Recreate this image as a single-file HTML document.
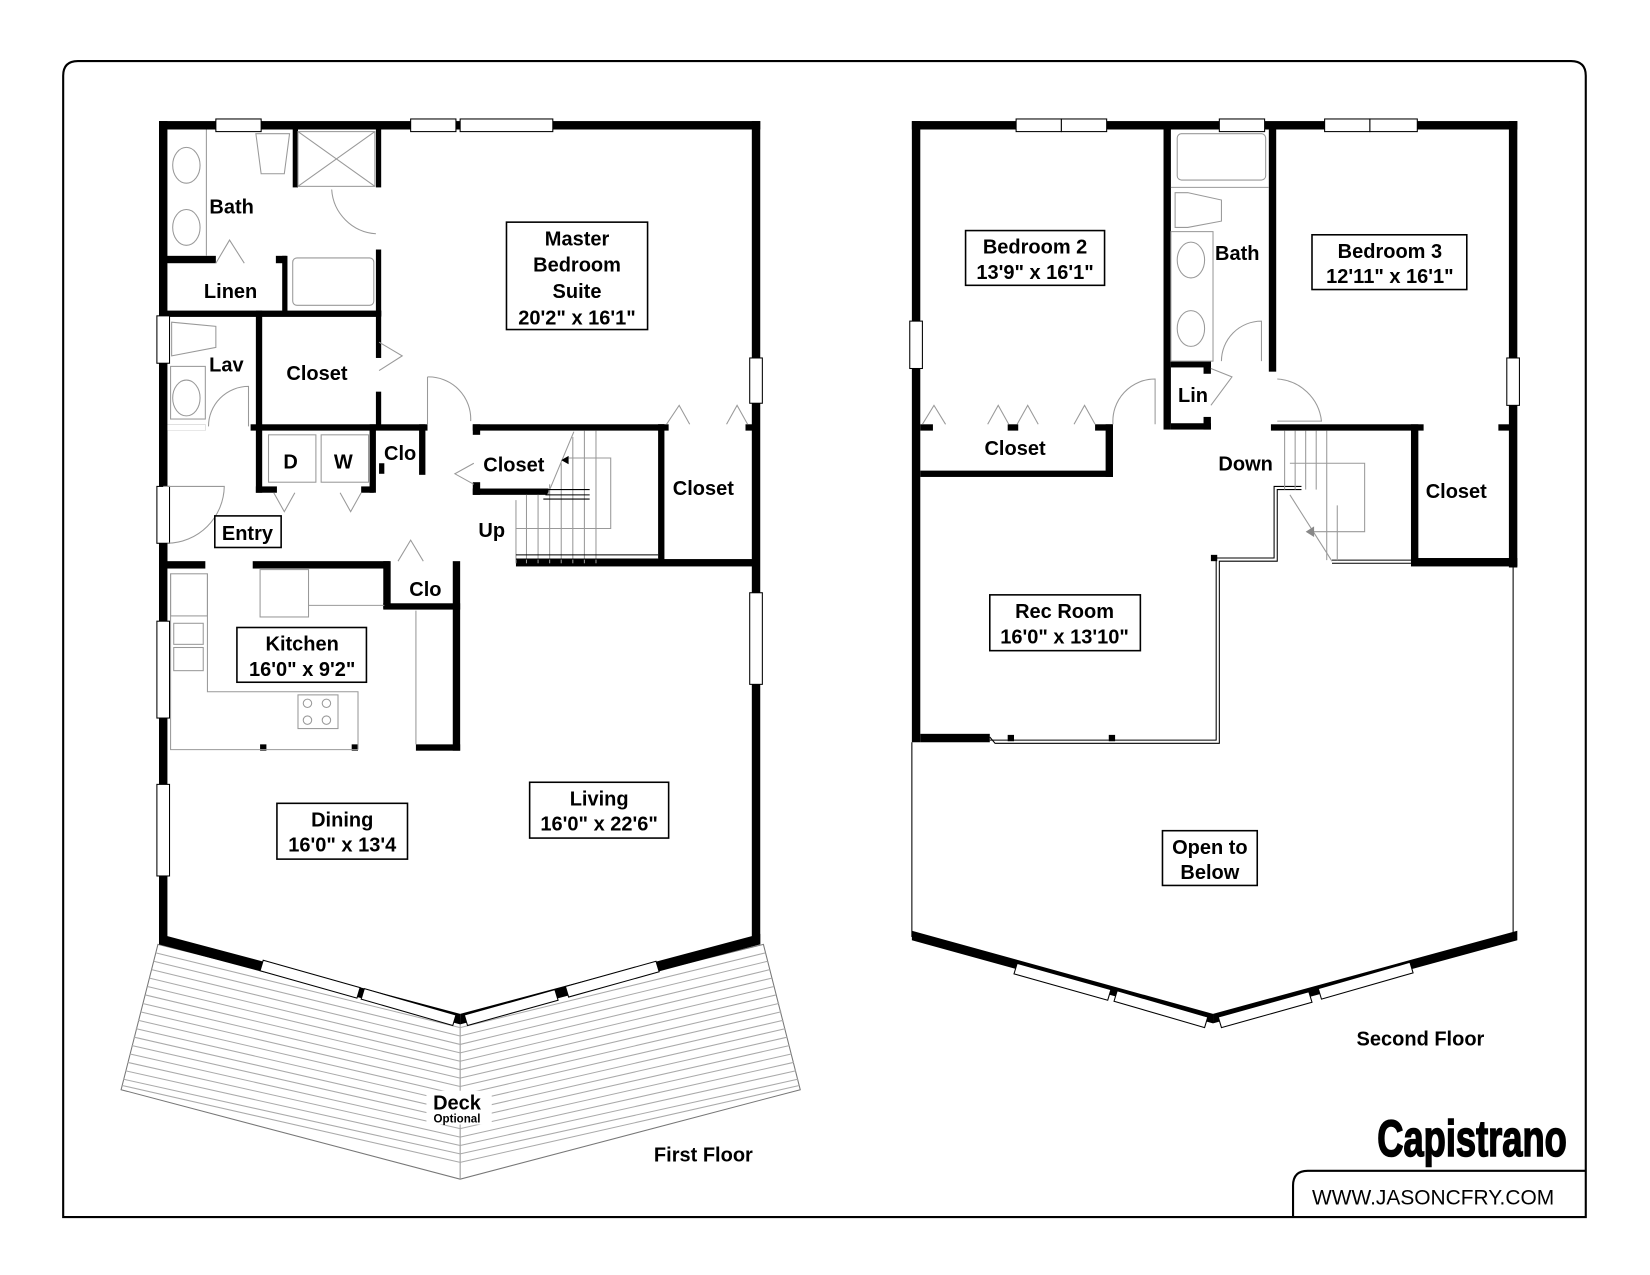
<!DOCTYPE html>
<html><head><meta charset="utf-8"><style>
html,body{margin:0;padding:0;background:#fff;width:1650px;height:1275px;overflow:hidden}
svg{display:block}
text{font-family:"Liberation Sans",Arial,sans-serif;font-weight:bold;fill:#000}
</style></head><body>
<svg width="1650" height="1275" viewBox="0 0 1567 1211" preserveAspectRatio="none" xmlns="http://www.w3.org/2000/svg">
<rect width="1567" height="1211" fill="#fff"/>
<!-- frame -->
<path d="M60,1156 L60,72 Q60,58 74,58 L1492,58 Q1506,58 1506,72 L1506,1156 Z" fill="none" stroke="#000" stroke-width="2"/>
<path d="M1228,1156 L1228,1126 Q1228,1112 1242,1112 L1506,1112" fill="none" stroke="#000" stroke-width="2"/>

<!-- deck -->
<g stroke="#999" stroke-width="1" fill="none">
<path d="M150,897 L437,968 L725,897 L760,1035 L437,1120 L115,1035 Z" stroke="#777"/>
<path d="M437,968 L437,1120"/>
</g>
<g stroke="#aaa" stroke-width="1">
<line x1="148" y1="905" x2="437" y2="976"/><line x1="146" y1="913" x2="437" y2="984"/><line x1="144" y1="921" x2="437" y2="992"/><line x1="142" y1="929" x2="437" y2="1000"/><line x1="140" y1="937" x2="437" y2="1008"/><line x1="138" y1="945" x2="437" y2="1016"/><line x1="135" y1="953" x2="437" y2="1024"/><line x1="133" y1="961" x2="437" y2="1032"/><line x1="131" y1="969" x2="437" y2="1040"/><line x1="129" y1="977" x2="437" y2="1048"/><line x1="127" y1="985" x2="437" y2="1056"/><line x1="125" y1="993" x2="437" y2="1064"/><line x1="123" y1="1001" x2="437" y2="1072"/><line x1="121" y1="1009" x2="437" y2="1080"/><line x1="119" y1="1017" x2="437" y2="1088"/><line x1="117" y1="1025" x2="437" y2="1096"/><line x1="116" y1="1031" x2="437" y2="1104"/>
<line x1="727" y1="905" x2="437" y2="976"/><line x1="729" y1="913" x2="437" y2="984"/><line x1="731" y1="921" x2="437" y2="992"/><line x1="733" y1="929" x2="437" y2="1000"/><line x1="735" y1="937" x2="437" y2="1008"/><line x1="737" y1="945" x2="437" y2="1016"/><line x1="740" y1="953" x2="437" y2="1024"/><line x1="742" y1="961" x2="437" y2="1032"/><line x1="744" y1="969" x2="437" y2="1040"/><line x1="746" y1="977" x2="437" y2="1048"/><line x1="748" y1="985" x2="437" y2="1056"/><line x1="750" y1="993" x2="437" y2="1064"/><line x1="752" y1="1001" x2="437" y2="1072"/><line x1="754" y1="1009" x2="437" y2="1080"/><line x1="756" y1="1017" x2="437" y2="1088"/><line x1="758" y1="1025" x2="437" y2="1096"/><line x1="759" y1="1031" x2="437" y2="1104"/>
</g>
<rect x="405" y="1036" width="62" height="32" fill="#fff"/>

<!-- FIRST FLOOR walls -->
<g fill="#000">
<rect x="151" y="115" width="571" height="8"/>
<rect x="151" y="115" width="8" height="782"/>
<rect x="714" y="115" width="8" height="782"/>
<rect x="278" y="123" width="5" height="55"/>
<rect x="357" y="123" width="5" height="55"/>
<rect x="357" y="237" width="5" height="63"/>
<rect x="155" y="243" width="50" height="7"/>
<rect x="262" y="243" width="10" height="7"/>
<rect x="268" y="243" width="5" height="55"/>
<rect x="155" y="295" width="207" height="6"/>
<rect x="243" y="295" width="6" height="110"/>
<rect x="357" y="295" width="5" height="45"/>
<rect x="357" y="372" width="5" height="35"/>
<rect x="155" y="403" width="40" height="6"/>
<rect x="238" y="403" width="168" height="6"/>
<rect x="243" y="403" width="6" height="65"/>
<rect x="243" y="462" width="20" height="6"/>
<rect x="343" y="462" width="12" height="6"/>
<rect x="351" y="403" width="6" height="65"/>
<rect x="398" y="403" width="6" height="48"/>
<rect x="360" y="440" width="5" height="10"/>
<rect x="449" y="403" width="182" height="6"/>
<rect x="449" y="403" width="7" height="10"/>
<rect x="449" y="458" width="7" height="12"/>
<rect x="449" y="464" width="72" height="6"/>
<rect x="625" y="403" width="6" height="133"/>
<rect x="625" y="403" width="10" height="6"/>
<rect x="708" y="403" width="10" height="6"/>
<rect x="490" y="531" width="228" height="7"/>
<rect x="155" y="533" width="40" height="7"/>
<rect x="240" y="533" width="130" height="7"/>
<rect x="364" y="533" width="7" height="45"/>
<rect x="364" y="573" width="73" height="6"/>
<rect x="430" y="533" width="7" height="180"/>
<rect x="395" y="707" width="42" height="6"/>
<rect x="247" y="707" width="6" height="6"/>
<rect x="334" y="707" width="6" height="6"/>
<polygon points="151,887 437,963 437,973 151,897"/>
<polygon points="722,887 437,963 437,973 722,897"/>
</g>
<g fill="#fff" stroke="#000" stroke-width="1">
<rect x="205" y="113" width="43" height="12"/>
<rect x="390" y="113" width="43" height="12"/>
<rect x="437" y="113" width="88" height="12"/>
<rect x="149" y="300" width="12" height="45"/>
<rect x="149" y="462" width="12" height="54"/>
<rect x="149" y="590" width="12" height="92"/>
<rect x="149" y="745" width="12" height="87"/>
<rect x="712" y="340" width="12" height="43"/>
<rect x="712" y="563" width="12" height="87"/>
<rect x="159" y="403" width="36" height="6" stroke="none"/>
<polygon points="250,912 342,938 339,948 247,922"/>
<polygon points="346,939 433,964 430,974 343,949"/>
<polygon points="441,964 527,940 530,950 444,974"/>
<polygon points="537,937 623,913 626,923 540,947"/>
</g>
<rect x="155" y="409" width="4" height="53" fill="#000"/>
<rect x="155" y="516" width="4" height="20" fill="#000"/>
<g fill="none" stroke="#999" stroke-width="1">
<ellipse cx="177" cy="157" rx="13" ry="17"/><ellipse cx="177" cy="216" rx="13" ry="17"/>
<line x1="196" y1="123" x2="196" y2="243"/>
<path d="M243,127 L275,127 L270,165 L248,165 Z"/>
<rect x="283" y="125" width="73" height="52"/><line x1="283" y1="125" x2="356" y2="177"/><line x1="356" y1="125" x2="283" y2="177"/>
<rect x="278" y="245" width="77" height="45" rx="4"/>
<path d="M315,180 A45,45 0 0 0 357,222"/>
<path d="M198,405 A38,38 0 0 1 236,367 L236,405"/>
<path d="M406,358 A40,40 0 0 1 447,400"/><line x1="406" y1="358" x2="406" y2="403"/>
<path d="M155,462 L213,462 A55,55 0 0 1 159,516"/>
<rect x="255" y="413" width="45" height="45"/><rect x="305" y="413" width="45" height="45"/>
<path d="M205,250 L218,228 L232,250"/>
<path d="M360,325 L382,338 L360,352"/>
<path d="M260,468 L270,486 L280,468"/><path d="M323,468 L333,486 L343,468"/>
<path d="M378,533 L390,513 L402,533"/>
<path d="M450,440 L432,450 L450,460"/>
<path d="M633,403 L645,385 L655,403"/><path d="M690,403 L700,385 L710,403"/>
<ellipse cx="177" cy="378" rx="13" ry="17"/><rect x="162" y="348" width="33" height="50"/>
<path d="M163,306 L205,310 L205,330 L163,338 Z"/>
<rect x="162" y="545" width="35" height="40"/>
<rect x="165" y="592" width="28" height="20"/><rect x="165" y="615" width="28" height="22"/>
<path d="M162,545 L162,712 L340,712 M197,545 L197,657 L340,657 L340,712"/>
<rect x="247" y="541" width="46" height="45"/><line x1="293" y1="575" x2="365" y2="575"/>
<rect x="283" y="660" width="38" height="32"/>
<circle cx="292" cy="668" r="4"/><circle cx="310" cy="668" r="4"/><circle cx="292" cy="684" r="4"/><circle cx="310" cy="684" r="4"/>
<line x1="395" y1="580" x2="395" y2="707"/>
<line x1="520" y1="470" x2="545" y2="410"/>
<line x1="490" y1="475" x2="490" y2="535"/>
<line x1="500" y1="470" x2="500" y2="535"/><line x1="511" y1="470" x2="511" y2="535"/><line x1="522" y1="460" x2="522" y2="535"/><line x1="533" y1="440" x2="533" y2="535"/><line x1="544" y1="415" x2="544" y2="535"/><line x1="555" y1="409" x2="555" y2="535"/><line x1="566" y1="409" x2="566" y2="535"/>
<path d="M540,435 L580,435 L580,502 L490,502"/>
</g>
<g stroke="#000" stroke-width="1" fill="none">
<line x1="520" y1="465" x2="560" y2="465"/><line x1="518" y1="470" x2="560" y2="470"/><line x1="516" y1="474" x2="560" y2="474"/>
<line x1="490" y1="527" x2="625" y2="527"/><line x1="490" y1="531" x2="625" y2="531"/>
</g>
<polygon points="533,437 540,433 540,441" fill="#000"/>

<!-- SECOND FLOOR -->
<g fill="#000">
<rect x="866" y="115" width="575" height="8"/>
<rect x="866" y="115" width="8" height="590"/>
<rect x="1433" y="115" width="8" height="424"/>
<rect x="1105" y="123" width="7" height="285"/>
<rect x="1205" y="123" width="7" height="230"/>
<rect x="1112" y="343" width="38" height="6"/>
<rect x="1112" y="402" width="38" height="6"/>
<rect x="1143" y="343" width="7" height="12"/>
<rect x="1143" y="396" width="7" height="12"/>
<rect x="874" y="403" width="12" height="6"/>
<rect x="957" y="403" width="10" height="6"/>
<rect x="1040" y="403" width="17" height="6"/>
<rect x="1050" y="403" width="7" height="50"/>
<rect x="874" y="447" width="183" height="6"/>
<rect x="1207" y="403" width="145" height="6"/>
<rect x="1340" y="403" width="7" height="133"/>
<rect x="1423" y="403" width="12" height="6"/>
<rect x="1340" y="530" width="101" height="8"/>
<rect x="874" y="697" width="66" height="8"/>
<rect x="1150" y="527" width="6" height="6"/>
<rect x="957" y="698" width="6" height="6"/><rect x="1053" y="698" width="6" height="6"/>
<polygon points="866,884 1152,963 1152,972 866,893"/>
<polygon points="1441,884 1152,963 1152,972 1441,893"/>
</g>
<g fill="#fff" stroke="#000" stroke-width="1">
<rect x="965" y="113" width="43" height="12"/><rect x="1008" y="113" width="43" height="12"/>
<rect x="1158" y="113" width="43" height="12"/>
<rect x="1258" y="113" width="43" height="12"/><rect x="1301" y="113" width="45" height="12"/>
<rect x="864" y="305" width="12" height="45"/>
<rect x="1431" y="340" width="12" height="45"/>
<polygon points="966,915 1055,940 1052,950 963,925"/>
<polygon points="1061,941 1147,966 1144,976 1058,951"/>
<polygon points="1157,966 1243,942 1246,952 1160,976"/>
<polygon points="1252,939 1339,914 1342,924 1255,949"/>
</g>
<g fill="none" stroke="#000" stroke-width="1">
<line x1="866" y1="705" x2="866" y2="890"/>
<line x1="1437" y1="538" x2="1437" y2="890"/>
<path d="M940,700 L945,706 L1158,706 L1158,533 L1213,533 L1213,465 L1236,465"/>
<path d="M940,703 L1155,703 L1155,530 L1210,530 L1210,462 L1236,462"/>
<line x1="1265" y1="535" x2="1340" y2="535"/><line x1="1265" y1="532" x2="1340" y2="532"/>
</g>
<g fill="none" stroke="#999" stroke-width="1">
<rect x="1118" y="127" width="84" height="44" rx="4"/><line x1="1112" y1="178" x2="1205" y2="178"/>
<path d="M1116,183 L1128,183 L1160,190 L1160,210 L1128,216 L1116,216 Z"/>
<rect x="1112" y="220" width="40" height="123"/>
<ellipse cx="1131" cy="247" rx="13" ry="17"/><ellipse cx="1131" cy="312" rx="13" ry="17"/>
<path d="M1160,343 A38,38 0 0 1 1198,305 L1198,343"/>
<path d="M1150,385 L1170,358 L1150,350"/>
<path d="M1213,360 A45,45 0 0 1 1255,400 L1213,400"/>
<path d="M1057,403 A40,40 0 0 1 1097,360 L1097,403"/>
<path d="M876,403 L887,385 L898,403"/><path d="M938,403 L948,385 L958,403 M966,403 L976,385 L986,403"/><path d="M1020,403 L1030,385 L1040,403"/>
<line x1="1220" y1="409" x2="1220" y2="465"/><line x1="1230" y1="409" x2="1230" y2="465"/><line x1="1240" y1="409" x2="1240" y2="465"/><line x1="1250" y1="409" x2="1250" y2="465"/><line x1="1260" y1="409" x2="1260" y2="532"/>
<line x1="1270" y1="480" x2="1270" y2="532"/>
<path d="M1225,440 L1296,440 L1296,505 L1245,505"/>
<line x1="1225" y1="470" x2="1265" y2="533"/>
</g>
<polygon points="1240,505 1248,500 1248,510" fill="#888"/>

<g font-size="19" text-anchor="middle">
<text x="220" y="203">Bath</text>
<text x="219" y="283">Linen</text>
<text x="215" y="353">Lav</text>
<text x="301" y="361">Closet</text>
<text x="276" y="445">D</text>
<text x="326" y="445">W</text>
<text x="380" y="437">Clo</text>
<text x="488" y="448">Closet</text>
<text x="668" y="470">Closet</text>
<text x="467" y="510">Up</text>
<text x="404" y="566">Clo</text>
<text x="668" y="1103">First Floor</text>
<text x="1175" y="247">Bath</text>
<text x="1133" y="382">Lin</text>
<text x="964" y="432">Closet</text>
<text x="1183" y="447">Down</text>
<text x="1383" y="473">Closet</text>
<text x="1349" y="993">Second Floor</text>
<text x="434" y="1054">Deck</text>
</g>
<text x="434" y="1066" font-size="11" text-anchor="middle">Optional</text>
<g fill="#fff" stroke="#000" stroke-width="1.5">
<rect x="481" y="211" width="134" height="102"/>
<rect x="204" y="490" width="63" height="30"/>
<rect x="225" y="596" width="123" height="52"/>
<rect x="503" y="743" width="132" height="53"/>
<rect x="263" y="763" width="124" height="53"/>
<rect x="917" y="219" width="132" height="52"/>
<rect x="1246" y="223" width="147" height="52"/>
<rect x="940" y="565" width="143" height="53"/>
<rect x="1104" y="789" width="90" height="52"/>
</g>
<g font-size="19" text-anchor="middle">
<text x="548" y="233">Master</text><text x="548" y="258">Bedroom</text><text x="548" y="283">Suite</text><text x="548" y="308">20'2" x 16'1"</text>
<text x="235" y="513">Entry</text>
<text x="287" y="618">Kitchen</text><text x="287" y="642">16'0" x 9'2"</text>
<text x="569" y="765">Living</text><text x="569" y="789">16'0" x 22'6"</text>
<text x="325" y="785">Dining</text><text x="325" y="809">16'0" x 13'4</text>
<text x="983" y="241">Bedroom 2</text><text x="983" y="265">13'9" x 16'1"</text>
<text x="1320" y="245">Bedroom 3</text><text x="1320" y="269">12'11" x 16'1"</text>
<text x="1011" y="587">Rec Room</text><text x="1011" y="611">16'0" x 13'10"</text>
<text x="1149" y="811">Open to</text><text x="1149" y="835">Below</text>
</g>
<text x="1308" y="1098" font-size="48" font-family="'Liberation Sans Narrow','Liberation Sans',sans-serif" textLength="180" lengthAdjust="spacingAndGlyphs" stroke="#000" stroke-width="1.5" style="font-weight:bold">Capistrano</text>
<text x="1246" y="1144" font-size="20" textLength="230" lengthAdjust="spacingAndGlyphs" style="font-weight:normal">WWW.JASONCFRY.COM</text>
</svg>
</body></html>
